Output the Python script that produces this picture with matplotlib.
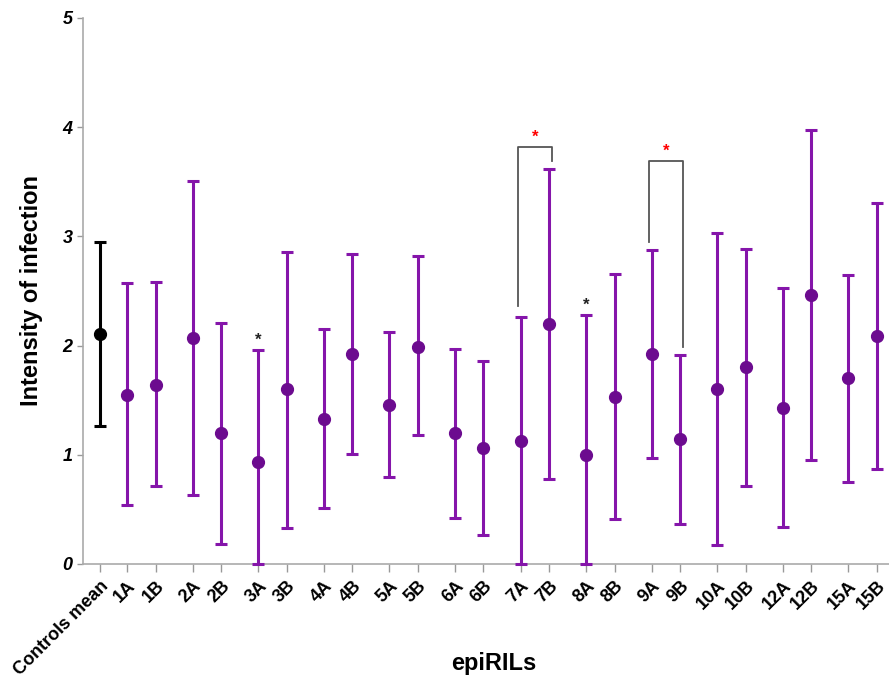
import matplotlib
matplotlib.use("Agg")
import matplotlib.pyplot as plt
import numpy as np

plt.rcParams["font.family"] = ["Liberation Sans", "DejaVu Sans"]

labels = ["Controls mean", "1A", "1B", "2A", "2B", "3A", "3B", "4A", "4B",
          "5A", "5B", "6A", "6B", "7A", "7B", "8A", "8B", "9A", "9B",
          "10A", "10B", "12A", "12B", "15A", "15B"]
means = [2.11, 1.55, 1.64, 2.07, 1.20, 0.93, 1.60, 1.33, 1.92,
         1.46, 1.99, 1.20, 1.06, 1.13, 2.20, 1.00, 1.53, 1.92, 1.14,
         1.60, 1.80, 1.43, 2.46, 1.70, 2.09]
lower = [1.265, 0.54, 0.71, 0.63, 0.18, 0.00, 0.33, 0.515, 1.01,
         0.80, 1.18, 0.42, 0.265, 0.00, 0.775, 0.00, 0.41, 0.967, 0.37,
         0.17, 0.716, 0.34, 0.954, 0.75, 0.87]
upper = [2.95, 2.57, 2.58, 3.51, 2.21, 1.96, 2.86, 2.15, 2.84,
         2.12, 2.82, 1.97, 1.86, 2.26, 3.62, 2.28, 2.66, 2.875, 1.91,
         3.03, 2.88, 2.53, 3.97, 2.65, 3.31]

# significance brackets: (left idx, right idx, top, left foot, right foot)
brackets = [(13, 14, 3.82, 2.36, 3.69), (17, 18, 3.69, 2.95, 1.99)]
black_stars = [5, 15]

purple_line = "#8515aa"
purple_dot = "#6c0b8f"

# x positions: control, then A/B pairs with a gap between pairs
x = [0.0]
for i in range(12):
    x += [0.95 + 2.3 * i, 1.95 + 2.3 * i]
x = np.array(x)
means = np.array(means)
lower = np.array(lower)
upper = np.array(upper)
yerr = np.vstack([means - lower, upper - means])

fig = plt.figure(figsize=(8.89, 6.79), dpi=100)
ax = fig.add_axes([0.0934, 0.1694, 0.9066, 0.8041])

for k in range(len(x)):
    lc = "black" if k == 0 else purple_line
    mc = "black" if k == 0 else purple_dot
    ax.errorbar(x[k], means[k], yerr=yerr[:, k:k + 1], fmt="o", color=lc,
                mfc=mc, mec=mc, ms=8.5, elinewidth=2.2, capsize=4.5,
                capthick=2.2, clip_on=False, zorder=3)

for a, b, top, fa, fb in brackets:
    ax.plot([x[a] - 0.1, x[a] - 0.1, x[b] + 0.1, x[b] + 0.1],
            [fa, top, top, fb], color="#555555", lw=1.3, zorder=2)
    ax.text((x[a] + x[b]) / 2, top + 0.02, "*", color="red", ha="center",
            va="bottom", fontsize=12, fontweight="bold")

for k in black_stars:
    ax.text(x[k], upper[k] + 0.02, "*", color="#222222", ha="center",
            va="bottom", fontsize=12, fontweight="bold")

ax.set_xlim(-0.6, 27.68)
ax.set_ylim(0, 5)
ax.set_yticks(range(6))
ax.set_yticklabels([str(v) for v in range(6)], fontsize=13,
                   fontweight="bold", fontstyle="italic")
ax.set_xticks(x)
ax.set_xticklabels(labels, rotation=45, ha="right", rotation_mode="anchor",
                   fontsize=13, fontweight="bold")

for s in ["top", "right"]:
    ax.spines[s].set_visible(False)
for s in ["left", "bottom"]:
    ax.spines[s].set_color("#aaaaaa")
    ax.spines[s].set_linewidth(1.2)
ax.tick_params(axis="x", colors="#999999", length=6, width=1, labelcolor="black")
ax.tick_params(axis="y", colors="#999999", length=4, width=1, labelcolor="black")

ax.set_ylabel("Intensity of infection", fontsize=17, fontweight="bold")
ax.yaxis.set_label_coords(-0.05, 0.5)
ax.set_xlabel("epiRILs", fontsize=17, fontweight="bold")
ax.xaxis.set_label_coords(0.509, -0.162)

fig.savefig("out.png", dpi=100)
